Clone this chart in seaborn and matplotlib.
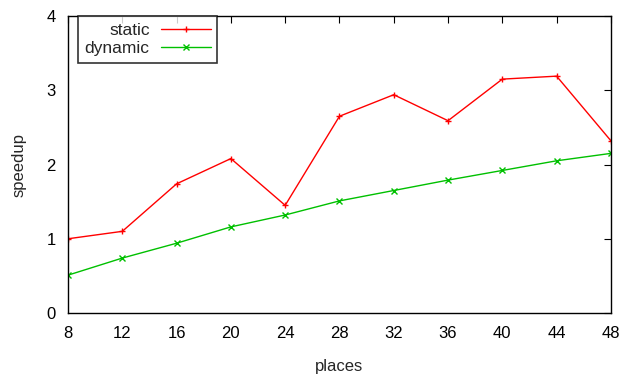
import matplotlib
matplotlib.use("Agg")
import matplotlib.pyplot as plt
import seaborn as sns
import pandas as pd

# Speedup measurements per number of places
places = [8, 12, 16, 20, 24, 28, 32, 36, 40, 44, 48]
static_speedup = [1.00, 1.10, 1.74, 2.08, 1.45, 2.65, 2.94, 2.59, 3.15, 3.19, 2.32]
dynamic_speedup = [0.51, 0.74, 0.94, 1.16, 1.32, 1.51, 1.65, 1.79, 1.92, 2.05, 2.15]
series_names = ["static", "dynamic"]
y_ticks = [0, 1, 2, 3, 4]

df = pd.DataFrame({
    "places": places * 2,
    "speedup": static_speedup + dynamic_speedup,
    "schedule": [series_names[0]] * len(places) + [series_names[1]] * len(places),
})

sns.set_style("white")
plt.rcParams["font.family"] = ["Liberation Sans", "DejaVu Sans"]

fig = plt.figure(figsize=(6.37, 3.75), dpi=100)
ax = fig.add_axes([0.1068, 0.1653, 0.959 - 0.1068, 0.9573 - 0.1653])

sns.lineplot(
    data=df, x="places", y="speedup", hue="schedule", style="schedule",
    palette={"static": "#ff0000", "dynamic": "#00c000"},
    markers={"static": "+", "dynamic": "x"}, dashes=False,
    linewidth=1.0, markersize=5, ax=ax,
)
# unfilled markers take the colour of their line
for ln in ax.get_lines():
    ln.set_markeredgecolor(ln.get_color())
    ln.set_markeredgewidth(1.0)

ax.set_xlim(8, 48)
ax.set_ylim(0, 4)
ax.set_xticks(places)
ax.set_yticks(y_ticks)
ax.tick_params(direction="in", length=5, width=0.8, top=True, right=True,
               labelsize=12, pad=9, colors="black")
for s in ax.spines.values():
    s.set_color("black")
    s.set_linewidth(1.0)
ax.set_xlabel("places", fontsize=12, labelpad=13)
ax.set_ylabel("speedup", fontsize=12, labelpad=14)

leg = ax.legend(loc="upper left", bbox_to_anchor=(0.018, 1.0), markerfirst=False,
                fontsize=12.5, handlelength=2.85, frameon=True, fancybox=False,
                borderpad=0.4, labelspacing=0.15, handletextpad=0.65, borderaxespad=0)
leg.get_frame().set_edgecolor("black")
leg.get_frame().set_linewidth(1.2)
for h in leg.get_lines():
    h.set_markeredgecolor(h.get_color())
    h.set_markeredgewidth(1.0)

fig.savefig("out.png", dpi=100)
